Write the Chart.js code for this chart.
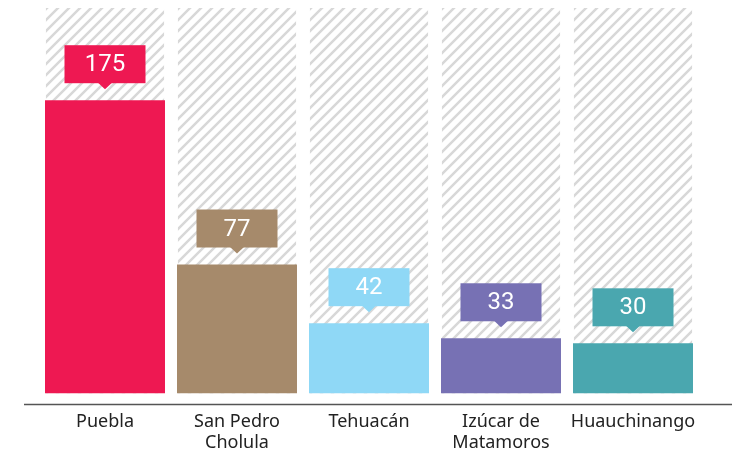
<!DOCTYPE html>
<html>
<head>
<meta charset="utf-8">
<script src="https://cdn.jsdelivr.net/npm/chart.js@4"></script>
<style>
  html, body { margin: 0; padding: 0; background: #fff; }
  canvas { display: block; }
</style>
</head>
<body>
<canvas id="myChart" width="732" height="452"></canvas>
<script>
// data
const cities = [["Puebla"], ["San Pedro", "Cholula"], ["Tehuacán"], ["Izúcar de", "Matamoros"], ["Huauchinango"]];
const values = [175, 77, 42, 33, 30];
const colors = ["#EE1852", "#A68A6B", "#8FD8F6", "#7771B4", "#4AA7AF"];
const yMax = 230;

// hatch pattern for the backdrop bars
function makeHatch() {
  const s = 11;
  const t = document.createElement("canvas");
  t.width = s;
  t.height = s;
  const c = t.getContext("2d");
  c.strokeStyle = "#d8d8d8";
  c.lineWidth = 2.5;
  c.beginPath();
  c.moveTo(-1, s + 1); c.lineTo(s + 1, -1);
  c.moveTo(-1, 1); c.lineTo(1, -1);
  c.moveTo(s - 1, s + 1); c.lineTo(s + 1, s - 1);
  c.stroke();
  return document.getElementById("myChart").getContext("2d").createPattern(t, "repeat");
}

// axis line + callout boxes with values
const calloutPlugin = {
  id: "callouts",
  afterDatasetsDraw(chart) {
    const ctx = chart.ctx;
    const area = chart.chartArea;
    ctx.save();
    ctx.strokeStyle = "#555";
    ctx.lineWidth = 1.5;
    ctx.beginPath();
    ctx.moveTo(area.left - 15, area.bottom + 11);
    ctx.lineTo(chart.width, area.bottom + 11);
    ctx.stroke();

    const meta = chart.getDatasetMeta(0);
    meta.data.forEach((bar, i) => {
      const x = bar.x;
      const tip = bar.y - 11;
      const bw = 81, bh = 38;
      const bottom = tip - 6;
      ctx.fillStyle = colors[i];
      ctx.fillRect(x - bw / 2, bottom - bh, bw, bh);
      ctx.beginPath();
      ctx.moveTo(x - 7, bottom - 0.5);
      ctx.lineTo(x + 7, bottom - 0.5);
      ctx.lineTo(x, tip);
      ctx.closePath();
      ctx.fill();
      ctx.fillStyle = "#fff";
      ctx.font = "24px Roboto";
      ctx.textAlign = "center";
      ctx.textBaseline = "middle";
      ctx.fillText(values[i], x, bottom - bh / 2 + 1);
    });
    ctx.restore();
  }
};

const ctx = document.getElementById("myChart").getContext("2d");
const chart = new Chart(ctx, {
  type: "bar",
  data: {
    labels: cities,
    datasets: [
      {
        data: values,
        backgroundColor: colors,
        grouped: false,
        order: 0,
        categoryPercentage: 0.909,
        barPercentage: 1
      },
      {
        data: cities.map(() => yMax),
        backgroundColor: makeHatch(),
        grouped: false,
        order: 1,
        categoryPercentage: 0.895,
        barPercentage: 1
      }
    ]
  },
  options: {
    responsive: false,
    animation: false,
    layout: { padding: { left: 39, right: 33, top: 8, bottom: -19 } },
    plugins: { legend: { display: false }, tooltip: { enabled: false } },
    scales: {
      y: { display: false, min: 0, max: yMax },
      x: {
        grid: { display: false, drawTicks: false },
        border: { display: false },
        ticks: {
          padding: 18,
          color: "#222",
          font: { family: "Noto Sans", size: 18, lineHeight: 1.15 }
        }
      }
    }
  },
  plugins: [calloutPlugin]
});
</script>
</body>
</html>
